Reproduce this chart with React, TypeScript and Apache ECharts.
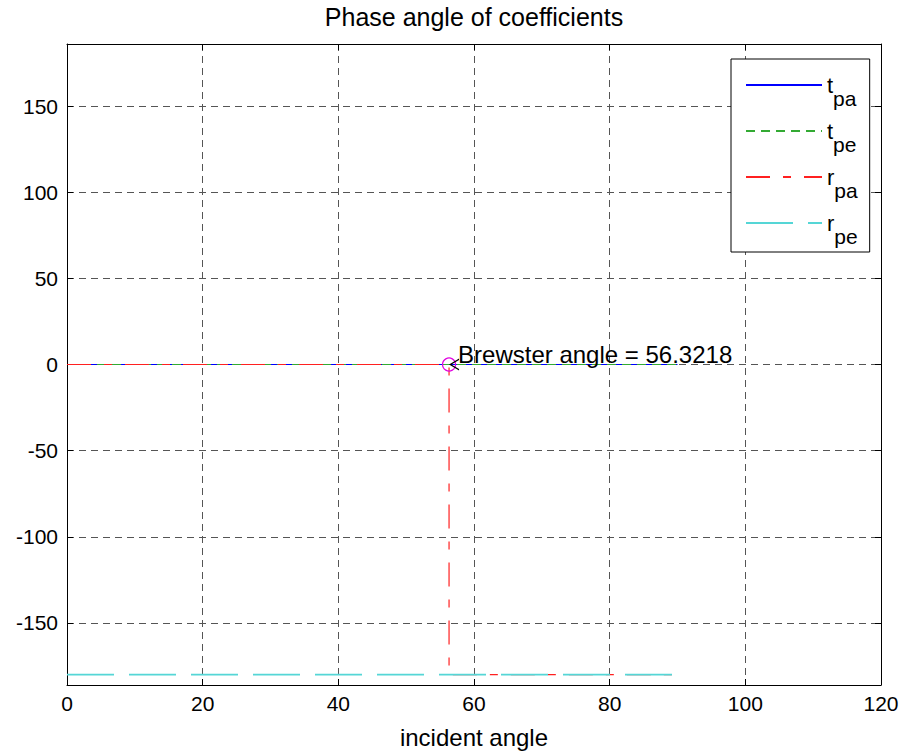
import React, { useEffect, useRef } from 'react';
import * as echarts from 'echarts';

const BREWSTER = 56.3218;
const tpaX = [0, 90];
const tpaY = [0, 0];
const tpeX = [0, 90];
const tpeY = [0, 0];
const rpaX = [0, 56.3218, 56.3218, 90];
const rpaY = [0, 0, -180, -180];
const rpeX = [0, 90];
const rpeY = [-180, -180];
const yTicks = [-150, -100, -50, 0, 50, 100, 150];
const X_MIN = 0, X_MAX = 120, X_STEP = 20;
const Y_MIN = -186, Y_MAX = 186;
const seriesNames = ['tpa', 'tpe', 'rpa', 'rpe'];

const FONT = '"Liberation Sans", Arial, Helvetica, sans-serif';
const ARROW = 'path://M10,0 L0,6 L10,12 L10,10.6 L2.4,6 L10,1.4 Z';

const zip = (xs: number[], ys: number[]) => xs.map((x, i) => [x, ys[i]]);

export default function App() {
  const ref = useRef<HTMLDivElement>(null);
  useEffect(() => {
    document.body.style.margin = '0';
    const chart = echarts.init(ref.current!, null, { renderer: 'svg' });
    const axisLine = { show: true, onZero: false, lineStyle: { color: '#000', width: 1 } };
    const tick = { show: true, inside: true, length: 6, lineStyle: { color: '#000' } };
    const split = { show: true, lineStyle: { color: '#555', type: [7, 5], width: 1 } };
    chart.setOption({
      animation: false,
      title: {
        text: 'Phase angle of coefficients',
        left: 469, top: -1, textAlign: 'center',
        textStyle: { fontFamily: FONT, fontSize: 25, fontWeight: 'normal', color: '#000' },
      },
      grid: { left: 67, right: 23, top: 44, bottom: 67 },
      legend: {
        orient: 'vertical',
        left: 731, top: 59,
        data: seriesNames,
        itemWidth: 76, itemHeight: 14, itemGap: 11,
        padding: [15, 12, 5, 14],
        borderColor: '#000', borderWidth: 1, backgroundColor: '#fff',
        selectedMode: false,
        itemStyle: { opacity: 0 },
        formatter: (name: string) => `{n|${name[0]}}{s|${name.slice(1)}}`,
        textStyle: {
          color: '#000', fontFamily: FONT, fontSize: 21,
          rich: {
            n: { fontFamily: FONT, fontSize: 22, lineHeight: 22, verticalAlign: 'top', color: '#000' },
            s: { fontFamily: FONT, fontSize: 21, lineHeight: 22, padding: [14, 0, 0, 0], verticalAlign: 'top', color: '#000' },
          },
        },
      },
      xAxis: [
        {
          type: 'value', min: X_MIN, max: X_MAX, interval: X_STEP,
          name: 'incident angle', nameLocation: 'middle', nameGap: 40,
          nameTextStyle: { fontFamily: FONT, fontSize: 24, color: '#000' },
          axisLine, axisTick: tick, splitLine: split,
          axisLabel: { fontFamily: FONT, fontSize: 21, color: '#000', margin: 8 },
        },
        {
          type: 'value', position: 'top', min: X_MIN, max: X_MAX, interval: X_STEP,
          axisLine, axisTick: tick, splitLine: { show: false }, axisLabel: { show: false },
        },
      ],
      yAxis: [
        {
          type: 'value', min: Y_MIN, max: Y_MAX,
          axisLine,
          axisTick: { ...tick, customValues: yTicks },
          splitLine: split,
          axisLabel: { fontFamily: FONT, fontSize: 21, color: '#000', margin: 9, customValues: yTicks },
        },
        {
          type: 'value', position: 'right', min: Y_MIN, max: Y_MAX,
          axisLine,
          axisTick: { ...tick, customValues: yTicks },
          splitLine: { show: false },
          axisLabel: { show: false, customValues: yTicks },
        },
      ],
      series: [
        { name: 'tpa', type: 'line', symbol: 'none', data: zip(tpaX, tpaY), lineStyle: { color: '#0000ff', width: 1, type: 'solid' }, itemStyle: { color: '#0000ff' } },
        { name: 'tpe', type: 'line', symbol: 'none', data: zip(tpeX, tpeY), lineStyle: { color: '#33aa33', width: 1.2, type: [9, 6] }, itemStyle: { color: '#33aa33' } },
        { name: 'rpa', type: 'line', symbol: 'none', data: zip(rpaX, rpaY), lineStyle: { color: '#ff2020', width: 1.2, type: [24, 13, 8, 13] }, itemStyle: { color: '#ff2020' } },
        { name: 'rpe', type: 'line', symbol: 'none', data: zip(rpeX, rpeY), lineStyle: { color: '#55d6d6', width: 1.8, type: [47, 15] }, itemStyle: { color: '#55d6d6' } },
        {
          name: 'arrow', type: 'scatter', symbol: ARROW, symbolSize: [10, 12], symbolOffset: [5, 0], z: 6,
          data: [[BREWSTER, 0]],
          itemStyle: { color: '#000', opacity: 1 },
          label: {
            show: true, color: '#000', opacity: 1, textBorderWidth: 0,
            position: 'right', distance: -1, offset: [0, -10],
            fontFamily: FONT, fontSize: 24,
            formatter: `Brewster angle = ${BREWSTER}`,
          },
          emphasis: { disabled: true },
        },
        {
          name: 'brewster', type: 'scatter', symbol: 'circle', symbolSize: 13, z: 5,
          data: [[BREWSTER, 0]],
          itemStyle: { color: 'rgba(0,0,0,0)', borderColor: '#e000e0', borderWidth: 1.2, opacity: 1 },
          emphasis: { disabled: true },
        },
      ],
    });
    return () => chart.dispose();
  }, []);
  return <div ref={ref} style={{ width: 904, height: 754 }} />;
}
